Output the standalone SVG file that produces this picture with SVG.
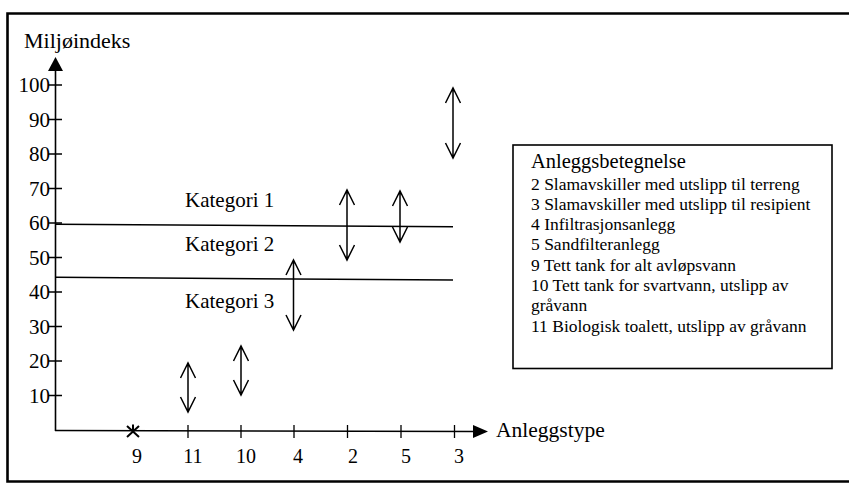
<svg xmlns="http://www.w3.org/2000/svg" width="849" height="484" viewBox="0 0 849 484" font-family="'Liberation Serif', 'Times New Roman', Times, 'DejaVu Serif', serif">
<style>
text{font-family:"Liberation Serif","Times New Roman",Times,"DejaVu Serif",serif;fill:#000}
.ax{stroke:#000;stroke-width:1.6;fill:none}
.tk{stroke:#000;stroke-width:1.3;fill:none}
.dbl{stroke:#000;stroke-width:1.5;fill:none}
.yl{font-size:21px;text-anchor:end}
.xl{font-size:20px;text-anchor:middle}
.kat{font-size:21px}
.lg{font-size:17.5px}
</style>
<rect width="849" height="484" fill="#fff"/>
<path d="M849 13.5H7.5V481.5H849" fill="none" stroke="#000" stroke-width="2.6"/>
<g id="axes">
<line class="ax" x1="55.5" y1="431" x2="55.5" y2="70"/>
<polygon points="55.5,57 48,71 63,71" fill="#000"/>
<line class="ax" x1="55" y1="430.5" x2="474" y2="431.5"/>
<polygon points="488,431.5 473,425 473,438" fill="#000"/>
<text x="24" y="48" font-size="22px">Miljøindeks</text>
<text x="496" y="437" font-size="21.5px">Anleggstype</text>
</g>
<g id="y-ticks">
<path class="tk" d="M48 85H62M48 119.5H62M48 154H62M48 188.5H62M48 223H62M48 257.5H62M48 292H62M48 326.5H62M48 361H62M48 395.5H62"/>
<text class="yl" x="50" y="92">100</text>
<text class="yl" x="50" y="126.5">90</text>
<text class="yl" x="50" y="161">80</text>
<text class="yl" x="50" y="195.5">70</text>
<text class="yl" x="50" y="230">60</text>
<text class="yl" x="50" y="264.5">50</text>
<text class="yl" x="50" y="299">40</text>
<text class="yl" x="50" y="333.5">30</text>
<text class="yl" x="50" y="368">20</text>
<text class="yl" x="50" y="402.5">10</text>
</g>
<g id="x-ticks">
<path class="tk" d="M188 425V438M241 425V438M294 425V438M347.5 425V438M401 425V438M454.5 425V438"/>
<path d="M127 426L139 437M139 426L127 437M133 424.5V432" stroke="#000" stroke-width="2" fill="none"/>
<text class="xl" x="137" y="463">9</text>
<text class="xl" x="193" y="463">11</text>
<text class="xl" x="246" y="463">10</text>
<text class="xl" x="298" y="463">4</text>
<text class="xl" x="353" y="463">2</text>
<text class="xl" x="406" y="463">5</text>
<text class="xl" x="459" y="463">3</text>
</g>
<g id="categories">
<line x1="56" y1="224.3" x2="453" y2="226.8" stroke="#000" stroke-width="1.5"/>
<line x1="56" y1="277.3" x2="453" y2="280" stroke="#000" stroke-width="1.5"/>
<text class="kat" x="185" y="207">Kategori 1</text>
<text class="kat" x="185" y="251">Kategori 2</text>
<text class="kat" x="185" y="308">Kategori 3</text>
</g>
<g id="ranges">
<g id="r11"><path class="dbl" d="M188 363V412M180.5 378L188 363L195.5 378M180.5 397L188 412L195.5 397"/></g>
<g id="r10"><path class="dbl" d="M241 346V395M233.5 361L241 346L248.5 361M233.5 380L241 395L248.5 380"/></g>
<g id="r4"><path class="dbl" d="M293.5 260V330M286 275L293.5 260L301 275M286 315L293.5 330L301 315"/></g>
<g id="r2"><path class="dbl" d="M347 190V260M339.5 205L347 190L354.5 205M339.5 245L347 260L354.5 245"/></g>
<g id="r5"><path class="dbl" d="M400 191V242M392.5 206L400 191L407.5 206M392.5 227L400 242L407.5 227"/></g>
<g id="r3"><path class="dbl" d="M453 88V158M445.5 103L453 88L460.5 103M445.5 143L453 158L460.5 143"/></g>
</g>
<g id="legend">
<rect x="513" y="145" width="319" height="223.5" fill="none" stroke="#000" stroke-width="1.6"/>
<text x="531" y="168" font-size="20.5px">Anleggsbetegnelse</text>
<text class="lg" x="531" y="190">2 Slamavskiller med utslipp til terreng</text>
<text class="lg" x="531" y="210">3 Slamavskiller med utslipp til resipient</text>
<text class="lg" x="531" y="230">4 Infiltrasjonsanlegg</text>
<text class="lg" x="531" y="250">5 Sandfilteranlegg</text>
<text class="lg" x="531" y="270.5">9 Tett tank for alt avløpsvann</text>
<text class="lg" x="531" y="291">10 Tett tank for svartvann, utslipp av</text>
<text class="lg" x="531" y="311">gråvann</text>
<text class="lg" x="531" y="332">11 Biologisk toalett, utslipp av gråvann</text>
</g>
</svg>
